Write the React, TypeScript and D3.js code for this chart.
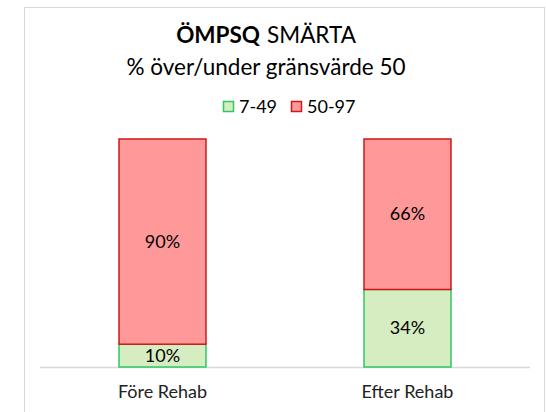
import React from "react";
import * as d3 from "d3";

const categories = ["Före Rehab", "Efter Rehab"];
const seriesNames = ["7-49", "50-97"];
const low = [10, 34]; // 7-49
const high = [90, 66]; // 50-97

const fills = ["#D6EDC2", "#FF9999"];
const strokes = ["#2FC864", "#D01818"];

const W = 546, H = 412;
const font = "Lato, 'Open Sans', sans-serif";

export default function App() {
  const x = d3.scaleBand<string>()
    .domain(categories)
    .range([40, 530])
    .paddingInner(0.645)
    .paddingOuter(0.3225);
  const y = d3.scaleLinear().domain([0, 100]).range([367, 139]);

  const rows = categories.map((c, i) => ({ cat: c, "7-49": low[i], "50-97": high[i] }));
  const stacked = d3.stack<any>().keys(seriesNames)(rows);

  return (
    <div style={{ position: "absolute", left: 0, top: 0 }}>
      <svg width={W} height={H} style={{ display: "block", fontFamily: font }}>
        <rect x={0} y={0} width={W} height={H} fill="#fff" />
        <rect x={24.5} y={7.5} width={520} height={420} fill="#fff" stroke="#d9d9d9" />

        <text x={266} y={43} textAnchor="middle" fontSize={22.5} fill="#000">
          <tspan fontWeight="bold">ÖMPSQ</tspan>
          <tspan dx={7}>SMÄRTA</tspan>
        </text>
        <text x={266} y={75} textAnchor="middle" fontSize={22.5} fill="#000">
          % över/under gränsvärde 50
        </text>

        {seriesNames.map((s, i) => {
          const lx = [223, 291][i];
          return (
            <g key={s}>
              <rect x={lx + 0.5} y={101.5} width={10} height={10} fill={fills[i]} stroke={strokes[i]} strokeWidth={1.5} />
              <text x={lx + 16} y={113} fontSize={18} fill="#000">{s}</text>
            </g>
          );
        })}

        <line x1={40} x2={530} y1={y(0) + 0.5} y2={y(0) + 0.5} stroke="#d9d9d9" strokeWidth={1.5} />

        {stacked.map((layer, si) => (
          <g key={layer.key}>
            {layer.map((d, ci) => {
              const cat = categories[ci];
              const bx = x(cat)!;
              const y0 = y(d[0]);
              const y1 = y(d[1]);
              return (
                <g key={cat}>
                  <rect x={bx} y={y1} width={x.bandwidth()} height={y0 - y1}
                    fill={fills[si]} stroke={strokes[si]} strokeWidth={1.5} />
                  <text x={bx + x.bandwidth() / 2} y={(y0 + y1) / 2 + 6} textAnchor="middle"
                    fontSize={18} fill="#000">{`${d[1] - d[0]}%`}</text>
                </g>
              );
            })}
          </g>
        ))}

        {categories.map(c => (
          <text key={c} x={x(c)! + x.bandwidth() / 2} y={398} textAnchor="middle" fontSize={18} fill="#222">{c}</text>
        ))}
      </svg>
    </div>
  );
}
